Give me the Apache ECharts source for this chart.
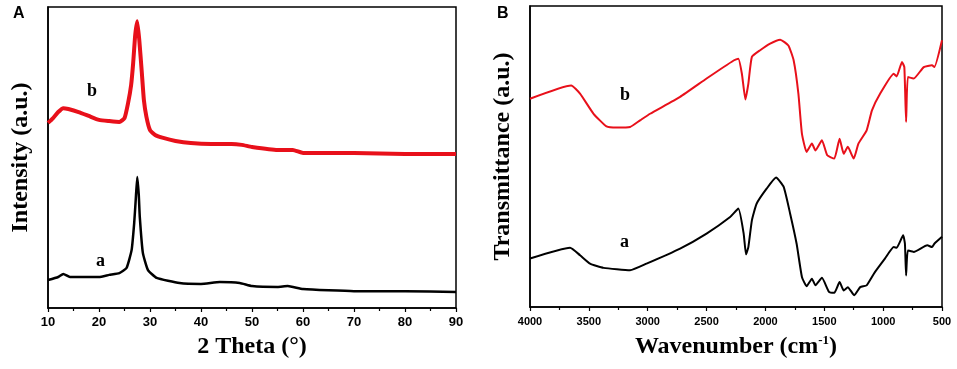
<!DOCTYPE html>
<html>
<head>
<meta charset="utf-8">
<script src="https://cdn.jsdelivr.net/npm/echarts@6/dist/echarts.min.js"></script>
<style>
html, body { margin: 0; padding: 0; background: #fff; }
#chart { width: 957px; height: 369px; }
</style>
</head>
<body>
<div id="chart"></div>
<script>
// XRD (panel A): 2 theta and intensity, a.u.
var xrdTheta = [10, 11, 12, 13, 14, 16, 18, 20, 22, 24, 25, 25.7, 26.3, 26.7, 27.1, 27.5, 27.9, 28.4, 28.8, 29.3, 30, 31, 32.6, 35, 38, 42, 46, 48, 50, 55, 58, 60, 65, 70, 80, 90];
var xrdB = [61.5, 63.1, 65.1, 66.4, 66.1, 65.1, 63.8, 62.5, 62.1, 61.8, 63.1, 68.1, 74.1, 81.4, 90.7, 95.3, 89.0, 78.1, 69.1, 63.5, 59.1, 57.5, 56.5, 55.5, 54.8, 54.5, 54.5, 54.2, 53.5, 52.5, 52.5, 51.5, 51.5, 51.5, 51.2, 51.2];
var xrdThetaA = [10, 12, 13, 14.3, 18, 20, 22, 24, 25.4, 26.4, 26.9, 27.2, 27.5, 27.8, 28.0, 28.6, 29.6, 31.3, 35.8, 40, 43.7, 47.6, 50, 55, 57, 60, 70, 80, 90];
var xrdA = [9.3, 10.3, 11.3, 10.3, 10.3, 10.3, 11.0, 11.6, 13.3, 19.3, 28.2, 35.9, 43.5, 37.5, 30.2, 18.3, 12.6, 10.0, 8.3, 8.0, 8.6, 8.3, 7.3, 7.0, 7.3, 6.3, 5.6, 5.6, 5.3];

// FTIR (panel B): wavenumber and transmittance, a.u.
var irWaveB = [4000, 3650, 3575, 3460, 3350, 3263, 3150, 3065, 2980, 2725, 2500, 2270, 2230, 2200, 2170, 2145, 2115, 2045, 1960, 1875, 1805, 1760, 1720, 1690, 1650, 1605, 1575, 1520, 1475, 1415, 1370, 1335, 1300, 1250, 1210, 1140, 1095, 1025, 910, 885, 840, 820, 805, 790, 740, 655, 585, 565, 500];
var irB = [69.2, 73.6, 70.9, 64.2, 60.0, 59.6, 59.8, 62.0, 64.2, 69.8, 75.9, 81.9, 82.5, 77.5, 68.9, 74.2, 83.1, 85.3, 87.5, 88.8, 86.9, 81.9, 70.9, 57.6, 51.5, 54.3, 52.0, 55.4, 50.4, 49.3, 55.9, 50.9, 53.2, 49.3, 54.3, 58.7, 65.3, 70.9, 77.5, 76.6, 81.4, 79.7, 61.5, 76.4, 75.9, 79.7, 80.3, 79.7, 88.6];
var irWaveA = [4000, 3660, 3575, 3490, 3375, 3150, 3010, 2725, 2500, 2300, 2230, 2185, 2165, 2145, 2115, 2075, 1990, 1910, 1845, 1790, 1735, 1690, 1650, 1605, 1575, 1520, 1460, 1415, 1370, 1335, 1300, 1245, 1195, 1140, 1070, 985, 910, 885, 830, 815, 805, 790, 740, 625, 585, 565, 500];
var irA = [16.1, 19.7, 17.2, 14.4, 13.0, 12.2, 14.4, 19.4, 24.4, 29.9, 32.7, 24.4, 17.5, 19.9, 28.8, 34.3, 39.3, 43.0, 39.9, 31.0, 21.0, 10.0, 6.9, 9.4, 7.2, 9.7, 5.0, 4.7, 8.3, 5.5, 6.6, 3.9, 6.6, 7.2, 11.6, 16.1, 19.9, 19.7, 23.8, 21.0, 10.5, 18.8, 18.3, 20.5, 19.9, 21.0, 23.3];

function pairs(xs, ys) {
    var out = [];
    for (var i = 0; i < xs.length; i++) out.push([xs[i], ys[i]]);
    return out;
}

var serif = "'Liberation Serif', 'Times New Roman', serif";
var sans = "'Liberation Sans', Arial, sans-serif";

function xAxisBase(opts) {
    var ax = {
        type: "value",
        axisLine: { show: true, lineStyle: { color: "#000", width: 1.5 } },
        axisTick: { show: true, inside: false, length: 4, lineStyle: { color: "#000", width: 1.2 } },
        minorTick: { show: true, splitNumber: 2, length: 3, lineStyle: { color: "#000", width: 1.2 } },
        splitLine: { show: false },
        minorSplitLine: { show: false },
        nameLocation: "middle",
        nameGap: 27,
        nameTextStyle: { color: "#000", fontFamily: serif, fontWeight: "bold", fontSize: 24 }
    };
    for (var k in opts) ax[k] = opts[k];
    return ax;
}

function yAxisBase(gridIndex, name) {
    return {
        type: "value",
        gridIndex: gridIndex,
        min: 0,
        max: 100,
        name: name,
        nameLocation: "middle",
        nameGap: 15,
        nameTextStyle: { color: "#000", fontFamily: serif, fontWeight: "bold", fontSize: 24 },
        axisLine: { show: true, lineStyle: { color: "#000", width: 1.5 } },
        axisTick: { show: false },
        axisLabel: { show: false },
        splitLine: { show: false }
    };
}

// 画线
function curve(xi, data, color, width) {
    return {
        type: "line", xAxisIndex: xi, yAxisIndex: xi, data: data,
        showSymbol: false, smooth: 0.15,
        lineStyle: { color: color, width: width, join: "round" }
    };
}

var myChart = echarts.init(document.getElementById("chart"));

var option = {
    animation: false,
    backgroundColor: "#fff",
    grid: [
        { left: 48, right: 501, top: 7, bottom: 61, show: true, borderColor: "#000", borderWidth: 1.5 },
        { left: 530, right: 15, top: 6, bottom: 62, show: true, borderColor: "#000", borderWidth: 1.5 }
    ],
    xAxis: [
        xAxisBase({
            gridIndex: 0, min: 10, max: 90, interval: 10,
            name: "2 Theta (°)",
            axisLabel: { color: "#000", fontFamily: sans, fontWeight: "bold", fontSize: 13, margin: 8 }
        }),
        xAxisBase({
            gridIndex: 1, min: 500, max: 4000, interval: 500, inverse: true,
            name: "Wavenumber (cm{sup|-1})",
            axisLabel: {
                color: "#000", fontFamily: sans, fontWeight: "bold", fontSize: 11, margin: 9,
                formatter: function (v) { return String(v); }
            }
        })
    ],
    yAxis: [
        yAxisBase(0, "Intensity (a.u.)"),
        yAxisBase(1, "Transmittance (a.u.)")
    ],
    series: [
        curve(0, pairs(xrdTheta, xrdB), "#e8101a", 4),
        curve(0, pairs(xrdThetaA, xrdA), "#000", 2.5),
        curve(1, pairs(irWaveB, irB), "#e8101a", 2),
        curve(1, pairs(irWaveA, irA), "#000", 2)
    ],
    graphic: [
        { type: "text", left: 13, top: 6, style: { text: "A", font: "bold 16px " + sans, fill: "#000" } },
        { type: "text", left: 497, top: 6, style: { text: "B", font: "bold 16px " + sans, fill: "#000" } },
        { type: "text", left: 87, top: 82, style: { text: "b", font: "bold 18px " + serif, fill: "#000" } },
        { type: "text", left: 96, top: 252, style: { text: "a", font: "bold 18px " + serif, fill: "#000" } },
        { type: "text", left: 620, top: 86, style: { text: "b", font: "bold 18px " + serif, fill: "#000" } },
        { type: "text", left: 620, top: 233, style: { text: "a", font: "bold 18px " + serif, fill: "#000" } }
    ]
};

option.xAxis[1].nameTextStyle.rich = {
    sup: { fontFamily: serif, fontWeight: "bold", fontSize: 13, verticalAlign: "top", padding: [0, 0, 12, 0] }
};

myChart.setOption(option);
</script>
</body>
</html>
